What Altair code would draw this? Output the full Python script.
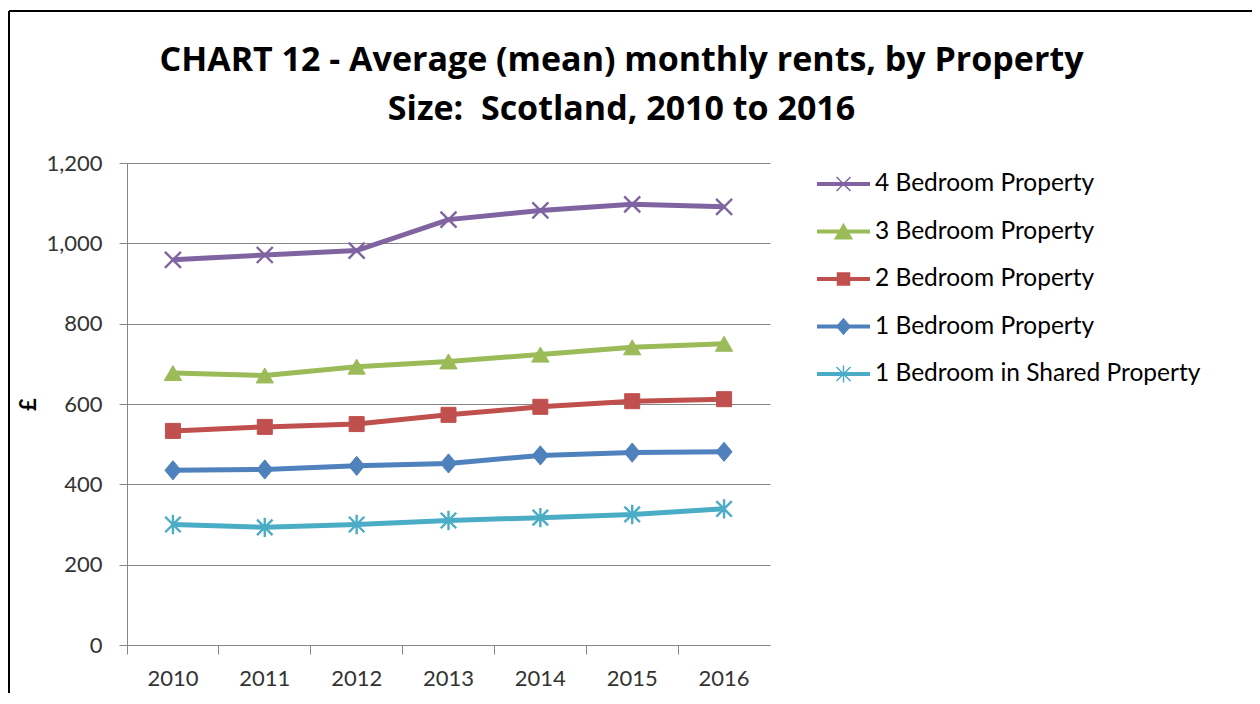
import altair as alt
import pandas as pd

years = ["2010", "2011", "2012", "2013", "2014", "2015", "2016"]
series_names = [
    "4 Bedroom Property",
    "3 Bedroom Property",
    "2 Bedroom Property",
    "1 Bedroom Property",
    "1 Bedroom in Shared Property",
]
bed4 = [959, 971, 982, 1059, 1082, 1097, 1091]
bed3 = [677, 671, 693, 706, 723, 741, 750]
bed2 = [533, 543, 550, 573, 593, 607, 612]
bed1 = [435, 437, 446, 452, 472, 479, 481]
shared = [300, 293, 300, 310, 317, 325, 339]
colors = ["#8064A2", "#9BBB59", "#C0504D", "#4F81BD", "#4BACC6"]

rows = []
for name, vals in zip(series_names, [bed4, bed3, bed2, bed1, shared]):
    for y, v in zip(years, vals):
        rows.append({"year": y, "series": name, "value": v})
df = pd.DataFrame(rows)
leg_df = pd.DataFrame({"series": series_names})

FONT = "Lato"

x_enc = alt.X(
    "year:O",
    scale=alt.Scale(type="band", paddingInner=0, paddingOuter=0),
    axis=alt.Axis(
        title=None, labelAngle=0, bandPosition=0, tickSize=9, tickColor="#868686",
        domainColor="#868686", labelFontSize=22, labelFont=FONT, labelColor="#333333",
        labelPadding=14, grid=False,
    ),
)
y_enc = alt.Y(
    "value:Q",
    scale=alt.Scale(domain=[0, 1200]),
    axis=alt.Axis(
        values=[0, 200, 400, 600, 800, 1000, 1200], format=",.0f", tickSize=8,
        tickColor="#868686", domainColor="#868686", gridColor="#868686", gridWidth=1,
        labelFontSize=22, labelFont=FONT, labelColor="#333333", labelPadding=17,
        title="£", titleFont=FONT, titleFontSize=22, titleFontWeight="bold",
        titleColor="#000000", titleAngle=270, titleX=-99, titleY=241,
        titleAlign="center", titleBaseline="middle",
    ),
)
color_scale = alt.Scale(domain=series_names, range=colors)

base = alt.Chart(df)

lines = base.mark_line(strokeWidth=5).encode(
    x=x_enc, y=y_enc,
    color=alt.Color("series:N", scale=color_scale, legend=None),
)

marker_styles = {
    "4 Bedroom Property": ("M-1,-1L1,1M-1,1L1,-1", 256, 2.4),
    "3 Bedroom Property": ("triangle-up", 300, 1),
    "2 Bedroom Property": ("square", 225, 1),
    "1 Bedroom Property": ("M0,-1.2L1,0L0,1.2L-1,0Z", 256, 1),
    "1 Bedroom in Shared Property": ("M-1,-1L1,1M-1,1L1,-1M0,-1.25L0,1.25", 240, 2.4),
}

point_layers = []
for name, col in zip(series_names, colors):
    shp, sz, sw = marker_styles[name]
    point_layers.append(
        base.transform_filter(alt.datum.series == name)
        .mark_point(shape=shp, size=sz, filled=True, fill=col, stroke=col,
                    strokeWidth=sw, opacity=1)
        .encode(x=x_enc, y=y_enc)
    )

frame_top = base.mark_rule(color="#000000", strokeWidth=2).encode(
    x=alt.value(-118), x2=alt.value(1125), y=alt.value(-152)
)
frame_left = base.mark_rule(color="#000000", strokeWidth=2).encode(
    x=alt.value(-118), y=alt.value(-152), y2=alt.value(540)
)

plot = alt.layer(frame_top, frame_left, lines, *point_layers)

# legend (built from the series names)
legend_marker_paths = [
    "M-0.7,-0.7L0.7,0.7M-0.7,0.7L0.7,-0.7",
    "M0,-0.72L0.83,0.72L-0.83,0.72Z",
    "M-0.6,-0.6L0.6,-0.6L0.6,0.6L-0.6,0.6Z",
    "M0,-0.75L0.65,0L0,0.75L-0.65,0Z",
    "M-0.7,-0.7L0.7,0.7M-0.7,0.7L0.7,-0.7M0,-0.85L0,0.85",
]
leg_y = alt.Y("series:N", scale=alt.Scale(type="point", domain=series_names,
                                          range=[21, 211], padding=0), axis=None)
leg_base = alt.Chart(leg_df)
leg_lines = leg_base.mark_rule(strokeWidth=4).encode(
    x=alt.value(690), x2=alt.value(743), y=leg_y,
    color=alt.Color("series:N", scale=color_scale, legend=None),
)
leg_marks = leg_base.mark_point(filled=True, size=400, strokeWidth=1.5, opacity=1).encode(
    x=alt.value(716.5), y=leg_y,
    shape=alt.Shape("series:N", scale=alt.Scale(domain=series_names, range=legend_marker_paths), legend=None),
    fill=alt.Fill("series:N", scale=color_scale, legend=None),
    stroke=alt.Stroke("series:N", scale=color_scale, legend=None),
)
leg_text = leg_base.mark_text(align="left", baseline="middle", font=FONT, fontSize=24.5,
                              color="#000000").encode(
    x=alt.value(748), y=leg_y, text="series:N",
)
legend = alt.layer(leg_lines, leg_marks, leg_text)

chart = alt.layer(plot, legend).resolve_scale(y="independent").properties(
    width=643,
    height=482,
    autosize=alt.AutoSizeParams(type="none"),
    padding={"left": 119, "top": 155, "right": 482, "bottom": 48},
    title=alt.TitleParams(
        text=["CHART 12 - Average (mean) monthly rents, by Property", "Size:\u00a0 Scotland, 2010 to 2016"],
        font="Open Sans", fontSize=34, fontWeight="bold", color="#000000", lineHeight=49,
        anchor="middle", frame="group", dx=173, dy=117, offset=0,
    ),
).configure_view(stroke=None)

chart.save("out.html", embed_options={"renderer": "svg", "actions": False})
